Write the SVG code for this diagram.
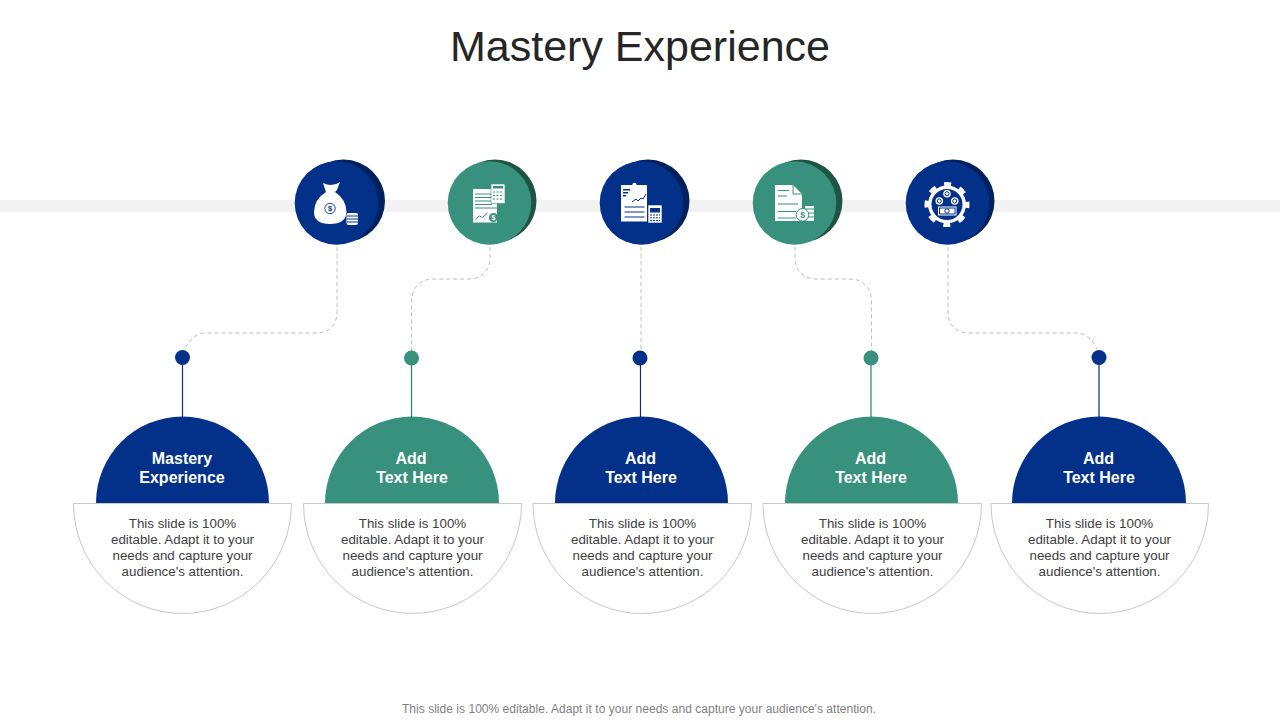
<svg xmlns="http://www.w3.org/2000/svg" width="1280" height="720" viewBox="0 0 1280 720">
<style>
text{font-family:"Liberation Sans",Arial,sans-serif;text-anchor:middle}
.title{font-size:43px;fill:#262626}
.head{font-size:16px;font-weight:700;fill:#fff}
.body{font-size:13.330px;fill:#404040}
.foot{font-size:12px;fill:#7f7f7f}
.dash{fill:none;stroke:#b5b5b5;stroke-width:.9;stroke-dasharray:4 3}
.blue{fill:#03318a}.green{fill:#38917c}
.dblue{fill:#01205e}.dgreen{fill:#1e5443}
.lb{stroke:#0b2f66;stroke-width:1.200}.lg{stroke:#2f8070;stroke-width:1.200}
.bowl{fill:#fff;stroke:#c8c8c8;stroke-width:1}
.w{fill:#fff}
.bl{fill:none;stroke:#03318a;stroke-width:1}.gl{fill:none;stroke:#38917c;stroke-width:1}
.sym{font-weight:700}
</style>
<rect x="0" y="200" width="1280" height="12" fill="#f2f2f2"/>
<text class="title" x="640" y="61">Mastery Experience</text>
<g id="connectors">
<path class="dash" d="M337 247V312C337 326 328 333 316 333H206C196 333 189 340 185 349"/>
<path class="dash" d="M490 247V258C490 271 481 279 469 279H433C420 279 411.500 288 411.500 302V351"/>
<path class="dash" d="M641 247V351"/>
<path class="dash" d="M795 247V258C795 271 804 279 816 279H850C863 279 871.500 288 871.500 302V351"/>
<path class="dash" d="M948 247V312C948 326 957 333 969 333H1076C1086 333 1093 340 1097 349"/>
<path class="lb" d="M182.500 360V418"/>
<path class="lg" d="M411.500 360V418"/>
<path class="lb" d="M640.500 360V418"/>
<path class="lg" d="M871 360V418"/>
<path class="lb" d="M1099 360V418"/>
</g>
<g id="icon-1">
<circle class="dblue" cx="343.500" cy="201" r="41.500"/><circle class="blue" cx="336.500" cy="203" r="41.800"/>
<path class="w" d="M323 183Q327 185 331 185Q336 185 340 182L337 190L335 192Q346 199 346.500 212Q346 224 330 224Q314 224 314 212Q314.500 199 326 192L325 189Z"/>
<circle cx="330" cy="208.500" r="5.200" fill="none" stroke="#03318a" stroke-width=".9"/>
<text class="sym" x="330" y="211.300" fill="#03318a" font-size="7.500">$</text>
<rect class="w" x="346.500" y="213" width="11.500" height="12" rx="2"/><path class="bl" d="M347 216h11M347 219h11M347 222h11" stroke-width=".8"/>
</g>
<g id="icon-2">
<circle class="dgreen" cx="495" cy="201" r="41.500"/><circle class="green" cx="489.500" cy="203" r="41.800"/>
<rect class="w" x="473" y="189" width="24" height="33.500"/>
<path class="gl" d="M475 194h17M475 197.500h17M475 201h17M475 204.500h17M475 208h22"/>
<rect class="w" x="491" y="184" width="14" height="19.500" stroke="#38917c" stroke-width=".6"/>
<path d="M493 186h10v2.500h-10z" fill="#38917c"/>
<path class="gl" d="M493 192h10M493 195.500h10M493 199h10" stroke-width="1.700" stroke-dasharray="2 1.500"/>
<path class="gl" d="M475.500 219l4-3 3 1.500 5-4.500" stroke-width="1.200"/>
<circle cx="493.500" cy="217.500" r="4.500" class="green"/>
<text class="sym" x="493.500" y="220" fill="#fff" font-size="7">$</text>
</g>
<g id="icon-3">
<circle class="dblue" cx="648" cy="201" r="41.500"/><circle class="blue" cx="641.500" cy="203" r="41.800"/>
<rect class="w" x="621" y="185" width="26" height="36.500"/><circle class="w" cx="634.500" cy="185" r="2.200"/>
<path d="M623 189h7v1.500h-7zM623 192h5v1.500h-5zM623 195h3v1.500h-3z" fill="#03318a"/>
<path class="bl" d="M632 202l4-3 2 2 3-3 2 1 3-5"/>
<path class="bl" d="M624.500 207h20M624.500 212h20M624.500 217h20" stroke-width="1.100"/>
<rect class="w" x="648" y="205" width="14" height="18" stroke="#03318a" stroke-width=".6"/>
<path d="M650 208h10v4.500h-10z" fill="#03318a"/><path class="bl" d="M650 215h10M650 217.800h10M650 220.600h10" stroke-width="1.500" stroke-dasharray="2 1"/>
</g>
<g id="icon-4">
<circle class="dgreen" cx="801" cy="201" r="41.500"/><circle class="green" cx="794.500" cy="203" r="41.800"/>
<path class="w" d="M775 185h18l9 9v17.500h3v-5.500h9v15h-39z"/>
<path class="gl" d="M793 185v9h9M778 190.500h11M778 196h9M778 204h20M778 211.500h18M778 218h18M805 209h9M805 213h9M805 217h9"/>
<circle cx="802.500" cy="214.800" r="6.300" fill="#fff" stroke="#38917c"/>
<text class="sym" x="802.500" y="218" fill="#38917c" font-size="8.500">$</text>
</g>
<g id="icon-5">
<circle class="dblue" cx="953" cy="201" r="41.500"/><circle class="blue" cx="947.500" cy="203" r="41.800"/>
<circle class="w" cx="947" cy="204.500" r="19"/>
<circle cx="947" cy="204.500" r="20" fill="none" stroke="#fff" stroke-width="5" stroke-dasharray="7 8.708" stroke-dashoffset="3.500"/>
<circle class="blue" cx="947" cy="204.500" r="15.500"/>
<g id="icon-5-coins">
<circle class="w" cx="947" cy="193.700" r="3.800"/><circle class="bl" cx="947" cy="193.700" r="2" stroke-width=".9"/>
<circle class="w" cx="939.300" cy="201" r="3.800"/><circle class="bl" cx="939.300" cy="201" r="2" stroke-width=".9"/>
<circle class="w" cx="954.700" cy="201" r="3.800"/><circle class="bl" cx="954.700" cy="201" r="2" stroke-width=".9"/>
</g>
<rect class="w" x="938" y="206.500" width="18.500" height="9"/><rect class="bl" x="939.500" y="208" width="15.500" height="6" stroke-width=".6"/>
<circle class="bl" cx="947" cy="211" r="2.200" stroke-width=".9"/>
</g>
<g id="card-1"><circle class="blue" cx="182.500" cy="357.500" r="7.500"/>
<path class="blue" d="M96 503A86.500 86.500 0 0 1 269 503Z"/><path class="bowl" d="M73.500 503.500H291.500A109 110 0 0 1 73.500 503.500Z"/>
<text class="head" x="182" y="464">Mastery</text><text class="head" x="182" y="483">Experience</text>
<text class="body" x="182.500" y="528">This slide is 100%</text><text class="body" x="182.500" y="544">editable. Adapt it to your</text><text class="body" x="182.500" y="560">needs and capture your</text><text class="body" x="182.500" y="576">audience's attention.</text></g>
<g id="card-2"><circle class="green" cx="411.500" cy="358" r="7.500"/>
<path class="green" d="M325 503A87 86.500 0 0 1 499 503Z"/><path class="bowl" d="M303.500 503.500H521.500A109 110 0 0 1 303.500 503.500Z"/>
<text class="head" x="411" y="464">Add</text><text class="head" x="412" y="483">Text Here</text>
<text class="body" x="412.500" y="528">This slide is 100%</text><text class="body" x="412.500" y="544">editable. Adapt it to your</text><text class="body" x="412.500" y="560">needs and capture your</text><text class="body" x="412.500" y="576">audience's attention.</text></g>
<g id="card-3"><circle class="blue" cx="640" cy="358" r="7.500"/>
<path class="blue" d="M555 503A86.500 86.500 0 0 1 728 503Z"/><path class="bowl" d="M533 503.500H751.500A109.250 110 0 0 1 533 503.500Z"/>
<text class="head" x="640.500" y="464">Add</text><text class="head" x="641" y="483">Text Here</text>
<text class="body" x="642.500" y="528">This slide is 100%</text><text class="body" x="642.500" y="544">editable. Adapt it to your</text><text class="body" x="642.500" y="560">needs and capture your</text><text class="body" x="642.500" y="576">audience's attention.</text></g>
<g id="card-4"><circle class="green" cx="871" cy="358" r="7.500"/>
<path class="green" d="M785 503A86.500 86.500 0 0 1 958 503Z"/><path class="bowl" d="M763 503.500H981.500A109.250 110 0 0 1 763 503.500Z"/>
<text class="head" x="870.500" y="464">Add</text><text class="head" x="871" y="483">Text Here</text>
<text class="body" x="872.500" y="528">This slide is 100%</text><text class="body" x="872.500" y="544">editable. Adapt it to your</text><text class="body" x="872.500" y="560">needs and capture your</text><text class="body" x="872.500" y="576">audience's attention.</text></g>
<g id="card-5"><circle class="blue" cx="1099" cy="357.500" r="7.500"/>
<path class="blue" d="M1012 503A87 86.500 0 0 1 1186 503Z"/><path class="bowl" d="M991 503.500H1208.500A108.750 110 0 0 1 991 503.500Z"/>
<text class="head" x="1098.500" y="464">Add</text><text class="head" x="1099" y="483">Text Here</text>
<text class="body" x="1099.500" y="528">This slide is 100%</text><text class="body" x="1099.500" y="544">editable. Adapt it to your</text><text class="body" x="1099.500" y="560">needs and capture your</text><text class="body" x="1099.500" y="576">audience's attention.</text></g>
<text class="foot" x="639" y="713" textLength="474">This slide is 100% editable. Adapt it to your needs and capture your audience's attention.</text>
</svg>
